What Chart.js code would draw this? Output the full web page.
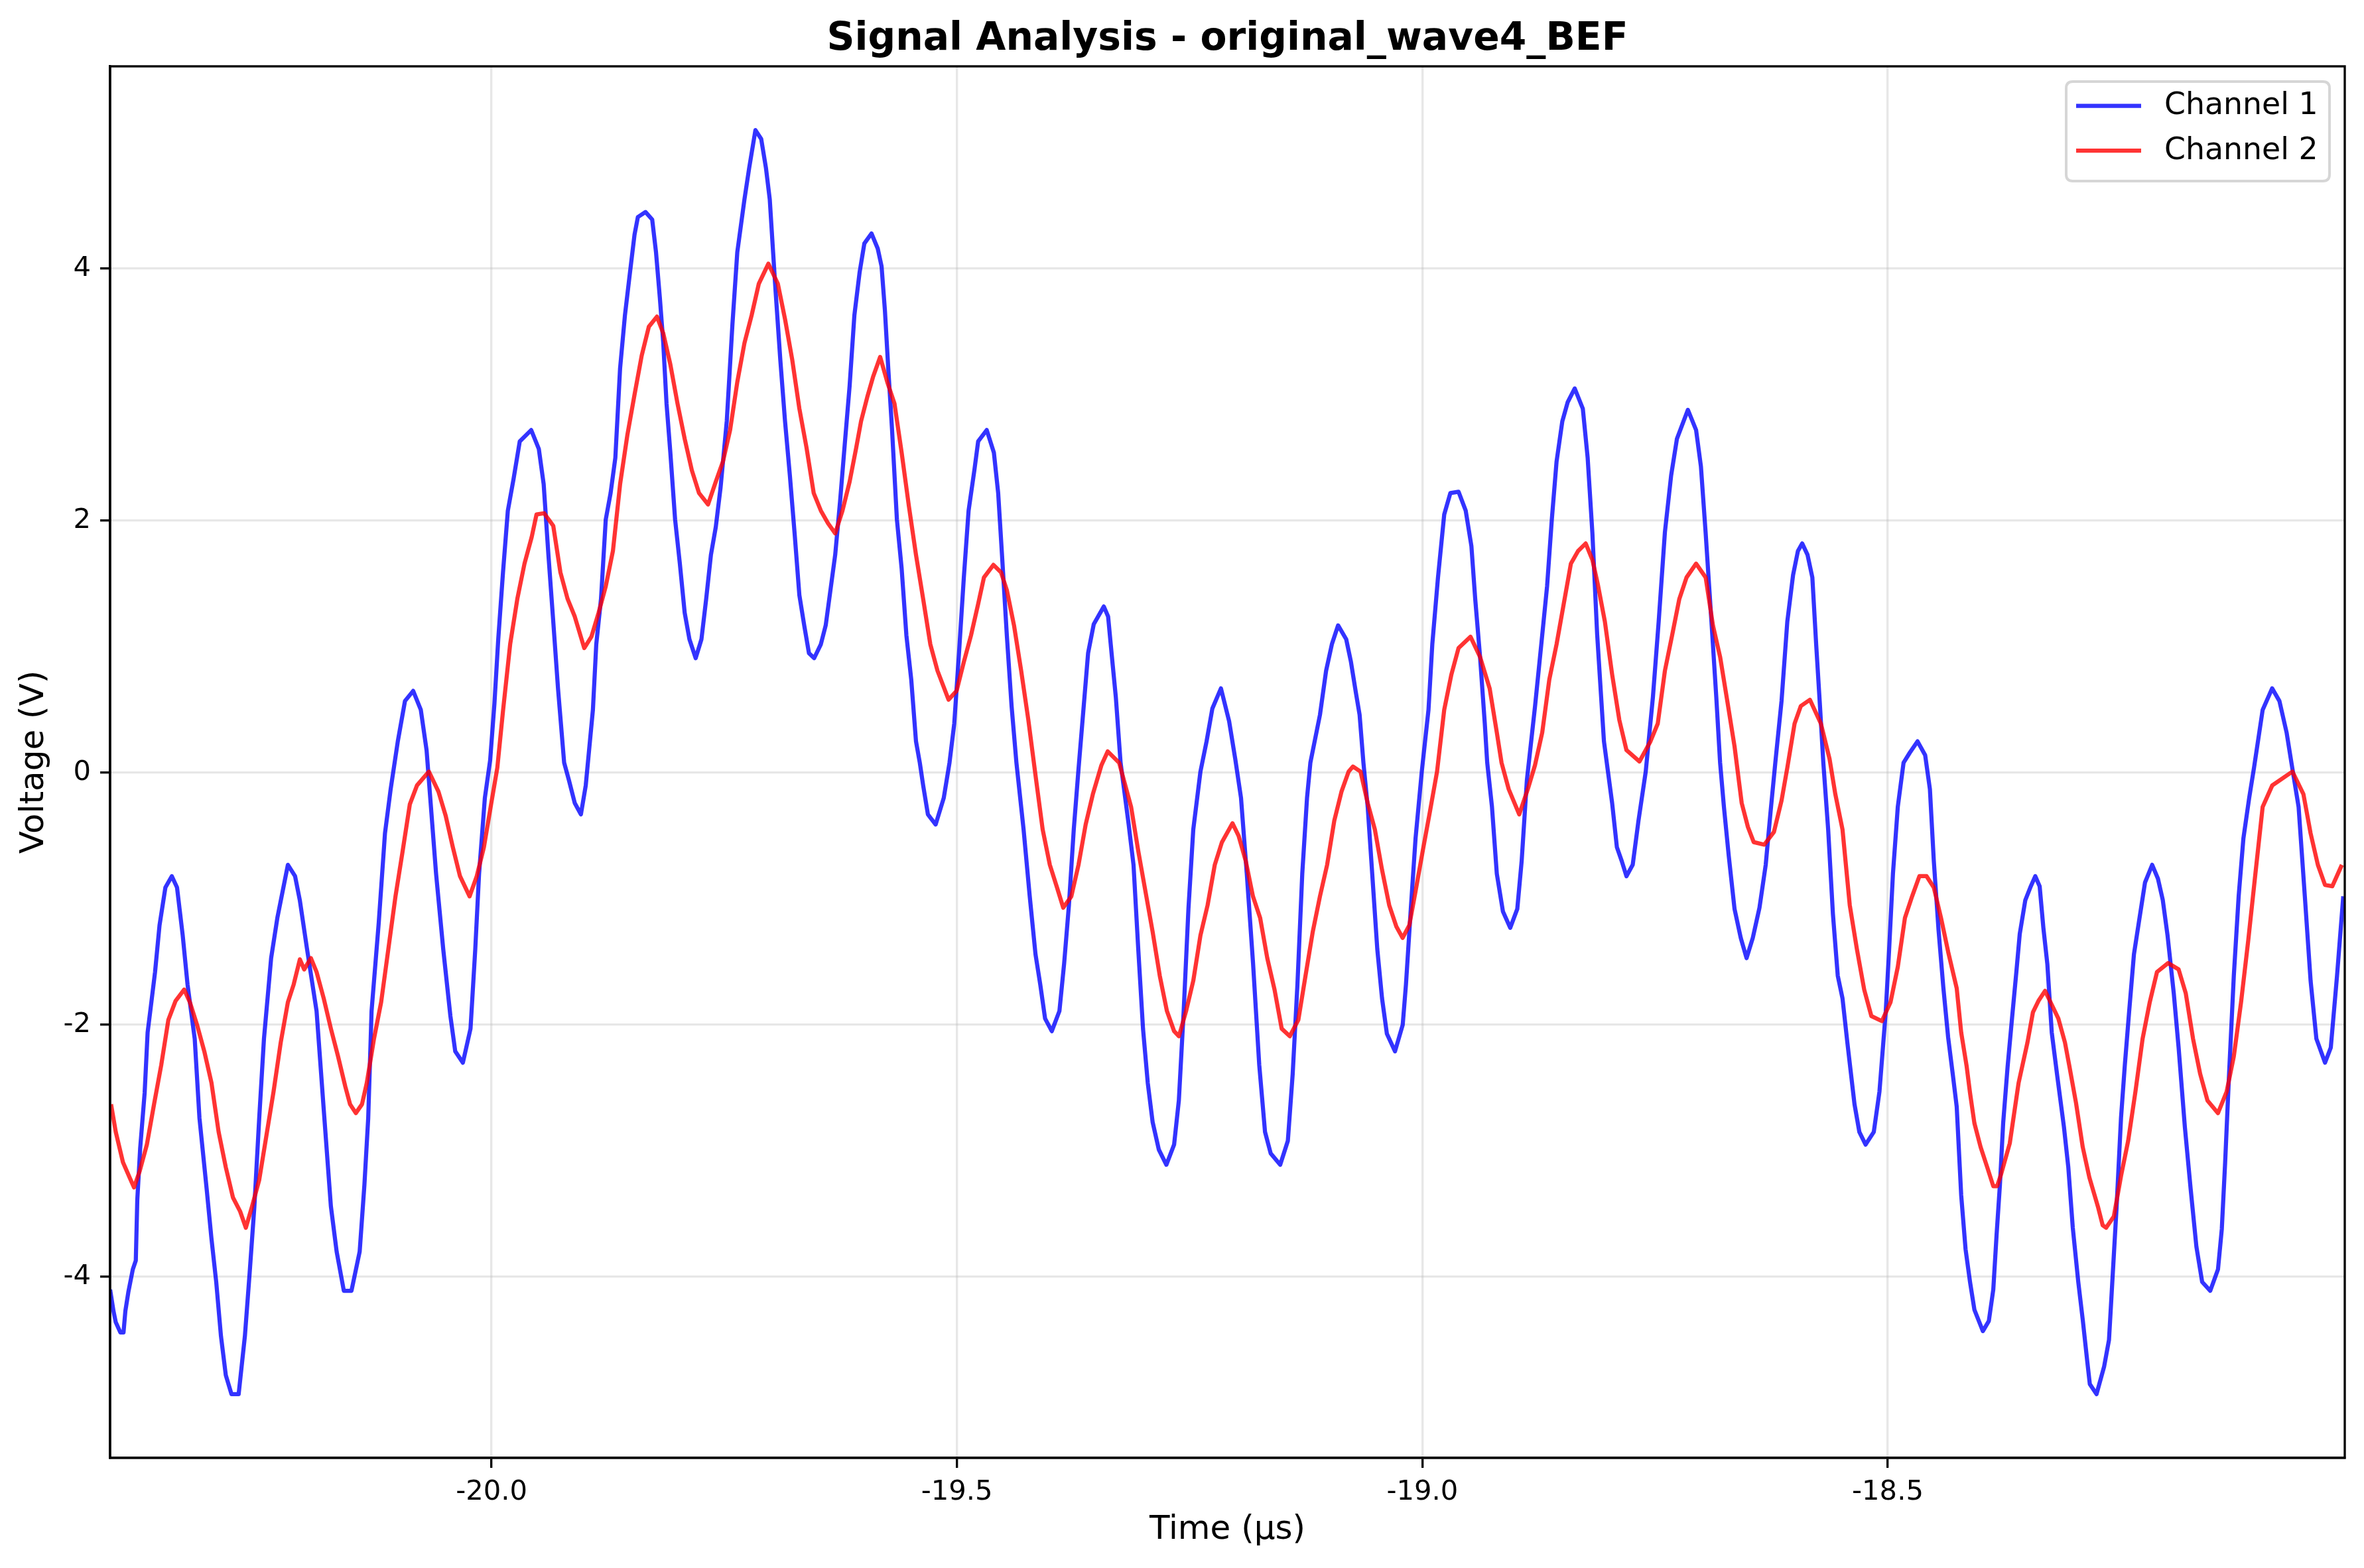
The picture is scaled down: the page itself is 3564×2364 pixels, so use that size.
<!DOCTYPE html>
<html><head><meta charset="utf-8">
<script src="https://cdn.jsdelivr.net/npm/chart.js@4.4.0/dist/chart.umd.min.js"></script>
<style>html,body{margin:0;padding:0;background:#fff;}canvas{display:block;}</style>
</head><body>
<canvas id="c" width="3564" height="2364" style="width:3564px;height:2364px"></canvas>
<script>
const chartTitle = 'Signal Analysis - original_wave4_BEF';
const xLabel = 'Time (μs)';
const yLabel = 'Voltage (V)';
const seriesNames = ['Channel 1', 'Channel 2'];
const xTicks = [-20.0, -19.5, -19.0, -18.5];
const yTicks = [-4, -2, 0, 2, 4];
const xRange = [-20.4098, -18.009];
const yRange = [-5.436, 5.606];

// [time (µs), voltage (V)]
const ch1Samples = [[-20.4098,-4.10],[-20.4062,-4.27],[-20.4037,-4.36],[-20.3988,-4.44],[-20.3954,-4.44],[-20.3934,-4.27],[-20.3902,-4.12],[-20.3854,-3.94],[-20.3822,-3.87],[-20.3806,-3.39],[-20.3775,-2.98],[-20.3727,-2.54],[-20.3695,-2.06],[-20.3663,-1.87],[-20.3615,-1.58],[-20.3567,-1.21],[-20.3504,-0.91],[-20.3435,-0.82],[-20.3379,-0.91],[-20.3318,-1.29],[-20.3266,-1.68],[-20.3189,-2.11],[-20.3138,-2.74],[-20.3061,-3.30],[-20.301,-3.69],[-20.2958,-4.04],[-20.2907,-4.47],[-20.2855,-4.78],[-20.2794,-4.93],[-20.2717,-4.93],[-20.265,-4.47],[-20.2599,-3.97],[-20.2548,-3.44],[-20.2496,-2.74],[-20.2445,-2.11],[-20.2368,-1.47],[-20.2301,-1.15],[-20.2188,-0.73],[-20.2111,-0.82],[-20.206,-1.01],[-20.1982,-1.40],[-20.188,-1.89],[-20.1803,-2.67],[-20.1726,-3.44],[-20.1664,-3.80],[-20.1587,-4.11],[-20.1505,-4.11],[-20.1417,-3.80],[-20.1366,-3.27],[-20.1325,-2.74],[-20.1289,-1.89],[-20.1212,-1.19],[-20.1145,-0.48],[-20.1084,-0.13],[-20.1007,0.25],[-20.093,0.57],[-20.0842,0.65],[-20.076,0.50],[-20.0698,0.18],[-20.0596,-0.80],[-20.0519,-1.40],[-20.0442,-1.93],[-20.039,-2.21],[-20.0308,-2.30],[-20.0226,-2.03],[-20.0175,-1.40],[-20.0134,-0.80],[-20.0072,-0.20],[-20.0015,0.10],[-19.9969,0.55],[-19.9928,1.06],[-19.9877,1.59],[-19.9825,2.08],[-19.9764,2.33],[-19.9697,2.63],[-19.9574,2.72],[-19.9492,2.57],[-19.944,2.29],[-19.9389,1.73],[-19.9337,1.20],[-19.9286,0.67],[-19.922,0.08],[-19.9168,-0.06],[-19.9106,-0.24],[-19.904,-0.33],[-19.8988,-0.10],[-19.8911,0.50],[-19.8875,1.02],[-19.8824,1.38],[-19.8773,2.01],[-19.8721,2.22],[-19.867,2.50],[-19.8619,3.21],[-19.8567,3.63],[-19.8516,3.95],[-19.8464,4.27],[-19.8428,4.41],[-19.8346,4.45],[-19.8274,4.39],[-19.8233,4.13],[-19.8192,3.77],[-19.8156,3.42],[-19.812,2.93],[-19.8079,2.54],[-19.8028,2.01],[-19.7977,1.66],[-19.7925,1.27],[-19.7874,1.06],[-19.7807,0.91],[-19.7745,1.06],[-19.7694,1.38],[-19.7643,1.73],[-19.7591,1.95],[-19.754,2.26],[-19.7473,2.79],[-19.7412,3.56],[-19.736,4.13],[-19.7283,4.55],[-19.7232,4.80],[-19.7165,5.10],[-19.7103,5.03],[-19.7052,4.80],[-19.7011,4.55],[-19.6975,4.13],[-19.695,3.84],[-19.6898,3.28],[-19.6847,2.79],[-19.6795,2.36],[-19.6744,1.90],[-19.6693,1.41],[-19.6641,1.17],[-19.659,0.95],[-19.6534,0.91],[-19.6462,1.02],[-19.641,1.17],[-19.6359,1.45],[-19.6308,1.73],[-19.6256,2.15],[-19.6205,2.61],[-19.6153,3.07],[-19.6102,3.63],[-19.6046,3.97],[-19.5995,4.20],[-19.5918,4.28],[-19.5851,4.16],[-19.581,4.02],[-19.5774,3.67],[-19.5738,3.21],[-19.5697,2.72],[-19.5645,2.01],[-19.5594,1.62],[-19.5543,1.09],[-19.5491,0.74],[-19.544,0.25],[-19.5399,0.08],[-19.5363,-0.10],[-19.5312,-0.33],[-19.5229,-0.41],[-19.5142,-0.20],[-19.508,0.08],[-19.5029,0.39],[-19.4978,0.95],[-19.4926,1.55],[-19.4875,2.08],[-19.4813,2.40],[-19.4772,2.63],[-19.468,2.72],[-19.4603,2.54],[-19.4557,2.22],[-19.4516,1.73],[-19.4464,1.09],[-19.4413,0.53],[-19.4361,0.08],[-19.4284,-0.45],[-19.4218,-0.98],[-19.4156,-1.44],[-19.4105,-1.68],[-19.4053,-1.95],[-19.3981,-2.05],[-19.3899,-1.89],[-19.3848,-1.51],[-19.3797,-1.05],[-19.3745,-0.45],[-19.3694,0.03],[-19.3591,0.95],[-19.353,1.18],[-19.3422,1.32],[-19.3376,1.24],[-19.3335,0.92],[-19.3293,0.60],[-19.3242,0.08],[-19.3155,-0.41],[-19.3103,-0.73],[-19.3052,-1.40],[-19.3001,-2.03],[-19.295,-2.46],[-19.2898,-2.77],[-19.2831,-2.99],[-19.275,-3.11],[-19.2667,-2.95],[-19.2616,-2.60],[-19.2564,-1.89],[-19.2513,-1.08],[-19.2461,-0.45],[-19.2384,0.01],[-19.2318,0.25],[-19.2256,0.51],[-19.2164,0.67],[-19.2076,0.41],[-19.201,0.11],[-19.1948,-0.20],[-19.1886,-0.80],[-19.1819,-1.51],[-19.1752,-2.32],[-19.169,-2.85],[-19.1629,-3.02],[-19.1527,-3.11],[-19.1445,-2.92],[-19.1393,-2.39],[-19.1342,-1.68],[-19.129,-0.80],[-19.1239,-0.20],[-19.1203,0.08],[-19.11,0.46],[-19.1034,0.81],[-19.0972,1.02],[-19.0905,1.17],[-19.0818,1.06],[-19.0767,0.88],[-19.0715,0.64],[-19.0674,0.46],[-19.0633,0.08],[-19.0587,-0.27],[-19.0535,-0.84],[-19.0484,-1.40],[-19.0433,-1.79],[-19.0381,-2.07],[-19.0294,-2.21],[-19.0211,-2.00],[-19.0176,-1.68],[-19.0124,-1.08],[-19.0073,-0.52],[-19.0006,0.01],[-18.9934,0.50],[-18.9893,1.02],[-18.9832,1.55],[-18.9765,2.05],[-18.9699,2.22],[-18.9611,2.23],[-18.9534,2.08],[-18.9473,1.80],[-18.9432,1.38],[-18.938,0.92],[-18.9329,0.39],[-18.9303,0.08],[-18.9252,-0.27],[-18.92,-0.80],[-18.9134,-1.10],[-18.9056,-1.23],[-18.898,-1.08],[-18.8933,-0.70],[-18.8877,-0.06],[-18.8789,0.53],[-18.8722,1.02],[-18.866,1.48],[-18.8609,2.01],[-18.8558,2.47],[-18.8496,2.79],[-18.8439,2.94],[-18.8363,3.05],[-18.8276,2.89],[-18.8224,2.50],[-18.8173,1.90],[-18.8122,1.10],[-18.8049,0.25],[-18.7961,-0.24],[-18.791,-0.59],[-18.7858,-0.70],[-18.7807,-0.82],[-18.774,-0.73],[-18.7678,-0.38],[-18.76,0.01],[-18.7523,0.60],[-18.7461,1.20],[-18.7394,1.91],[-18.7327,2.36],[-18.7265,2.65],[-18.7147,2.88],[-18.7059,2.72],[-18.7007,2.43],[-18.6956,1.90],[-18.6894,1.20],[-18.6842,0.60],[-18.6801,0.08],[-18.676,-0.27],[-18.6708,-0.66],[-18.6646,-1.08],[-18.6579,-1.31],[-18.6517,-1.47],[-18.645,-1.31],[-18.6378,-1.07],[-18.6311,-0.73],[-18.6259,-0.31],[-18.6208,0.08],[-18.6141,0.57],[-18.6079,1.20],[-18.6017,1.57],[-18.5965,1.76],[-18.5919,1.82],[-18.5862,1.73],[-18.581,1.55],[-18.5769,1.02],[-18.5728,0.53],[-18.5692,0.08],[-18.564,-0.45],[-18.5589,-1.12],[-18.5537,-1.61],[-18.5486,-1.79],[-18.5434,-2.14],[-18.5357,-2.63],[-18.5305,-2.85],[-18.5238,-2.95],[-18.515,-2.85],[-18.5089,-2.53],[-18.5021,-1.89],[-18.4985,-1.40],[-18.4944,-0.80],[-18.4892,-0.27],[-18.483,0.08],[-18.4763,0.16],[-18.468,0.25],[-18.4598,0.14],[-18.4547,-0.13],[-18.4505,-0.70],[-18.4454,-1.25],[-18.4403,-1.70],[-18.4351,-2.10],[-18.43,-2.40],[-18.4259,-2.65],[-18.4211,-3.35],[-18.4164,-3.78],[-18.4116,-4.04],[-18.4069,-4.26],[-18.4021,-4.35],[-18.3978,-4.43],[-18.3914,-4.35],[-18.3866,-4.10],[-18.3831,-3.67],[-18.3795,-3.27],[-18.376,-2.78],[-18.3712,-2.33],[-18.3665,-1.95],[-18.3617,-1.57],[-18.3582,-1.28],[-18.3522,-1.01],[-18.3463,-0.90],[-18.3415,-0.82],[-18.3368,-0.90],[-18.3328,-1.23],[-18.3285,-1.52],[-18.3238,-2.06],[-18.3178,-2.41],[-18.3107,-2.81],[-18.306,-3.13],[-18.3012,-3.61],[-18.2953,-4.04],[-18.2905,-4.34],[-18.2858,-4.66],[-18.2829,-4.85],[-18.2757,-4.93],[-18.2675,-4.71],[-18.2623,-4.50],[-18.2582,-3.97],[-18.2541,-3.44],[-18.2494,-2.74],[-18.2453,-2.32],[-18.2406,-1.89],[-18.2355,-1.44],[-18.2303,-1.19],[-18.2236,-0.87],[-18.2159,-0.73],[-18.2097,-0.84],[-18.2045,-1.01],[-18.1994,-1.29],[-18.1927,-1.75],[-18.1875,-2.18],[-18.1808,-2.81],[-18.1746,-3.30],[-18.1684,-3.76],[-18.1622,-4.04],[-18.1535,-4.11],[-18.1452,-3.94],[-18.1411,-3.62],[-18.1375,-3.09],[-18.1333,-2.39],[-18.1282,-1.61],[-18.123,-0.98],[-18.1179,-0.52],[-18.1117,-0.20],[-18.1065,0.04],[-18.0972,0.50],[-18.087,0.67],[-18.0792,0.57],[-18.0715,0.32],[-18.0663,0.08],[-18.0586,-0.27],[-18.0519,-0.98],[-18.0457,-1.65],[-18.0395,-2.11],[-18.0302,-2.30],[-18.024,-2.18],[-18.0173,-1.61],[-18.0106,-0.98]];

const ch2Samples = [[-20.4088,-2.63],[-20.4037,-2.85],[-20.396,-3.09],[-20.3883,-3.22],[-20.3841,-3.29],[-20.378,-3.16],[-20.3703,-2.95],[-20.3626,-2.63],[-20.3549,-2.32],[-20.3472,-1.96],[-20.3395,-1.81],[-20.3302,-1.72],[-20.3241,-1.82],[-20.3164,-2.00],[-20.3086,-2.21],[-20.3009,-2.46],[-20.2932,-2.85],[-20.2855,-3.13],[-20.2778,-3.37],[-20.2701,-3.48],[-20.264,-3.61],[-20.2573,-3.44],[-20.2496,-3.23],[-20.2419,-2.88],[-20.2342,-2.53],[-20.2265,-2.14],[-20.2188,-1.82],[-20.2126,-1.68],[-20.2059,-1.48],[-20.2013,-1.56],[-20.1941,-1.47],[-20.188,-1.58],[-20.1803,-1.79],[-20.1726,-2.03],[-20.1649,-2.25],[-20.1571,-2.49],[-20.152,-2.63],[-20.1458,-2.70],[-20.1392,-2.63],[-20.134,-2.46],[-20.1263,-2.11],[-20.1186,-1.82],[-20.1109,-1.40],[-20.1032,-0.98],[-20.0955,-0.62],[-20.0878,-0.25],[-20.0801,-0.10],[-20.0673,0.01],[-20.057,-0.15],[-20.0493,-0.34],[-20.0416,-0.59],[-20.0339,-0.82],[-20.0236,-0.98],[-20.0159,-0.82],[-20.0082,-0.59],[-20.0005,-0.25],[-19.9938,0.04],[-19.9877,0.49],[-19.98,1.02],[-19.9723,1.38],[-19.9646,1.66],[-19.9569,1.87],[-19.9517,2.05],[-19.9435,2.06],[-19.9337,1.96],[-19.926,1.59],[-19.9183,1.38],[-19.9106,1.24],[-19.9004,0.99],[-19.8927,1.08],[-19.885,1.27],[-19.8773,1.48],[-19.8696,1.76],[-19.8619,2.29],[-19.8541,2.68],[-19.8464,3.00],[-19.8387,3.31],[-19.831,3.54],[-19.8223,3.62],[-19.8156,3.49],[-19.8079,3.24],[-19.8002,2.93],[-19.7925,2.65],[-19.7848,2.40],[-19.7771,2.22],[-19.7674,2.13],[-19.7591,2.31],[-19.7514,2.47],[-19.7437,2.72],[-19.736,3.10],[-19.7283,3.41],[-19.7206,3.63],[-19.7129,3.88],[-19.7026,4.04],[-19.6924,3.88],[-19.6847,3.60],[-19.677,3.28],[-19.6693,2.89],[-19.6616,2.58],[-19.6539,2.22],[-19.6462,2.08],[-19.6385,1.98],[-19.6308,1.90],[-19.623,2.08],[-19.6153,2.31],[-19.6082,2.58],[-19.603,2.79],[-19.5964,2.98],[-19.5902,3.14],[-19.5825,3.30],[-19.5748,3.10],[-19.5671,2.93],[-19.5594,2.54],[-19.5517,2.12],[-19.544,1.73],[-19.5363,1.38],[-19.5286,1.02],[-19.5209,0.81],[-19.509,0.58],[-19.5004,0.65],[-19.4926,0.88],[-19.4849,1.09],[-19.4772,1.34],[-19.471,1.55],[-19.4608,1.65],[-19.4526,1.59],[-19.4464,1.45],[-19.4387,1.17],[-19.431,0.81],[-19.4233,0.42],[-19.4156,-0.02],[-19.4079,-0.45],[-19.4002,-0.73],[-19.3925,-0.91],[-19.3858,-1.07],[-19.3771,-0.98],[-19.3694,-0.73],[-19.3617,-0.41],[-19.354,-0.17],[-19.3448,0.06],[-19.338,0.17],[-19.3257,0.08],[-19.3206,-0.06],[-19.3129,-0.27],[-19.3052,-0.62],[-19.2975,-0.94],[-19.2898,-1.26],[-19.2821,-1.61],[-19.2744,-1.89],[-19.2667,-2.05],[-19.2615,-2.09],[-19.2538,-1.89],[-19.2461,-1.65],[-19.2384,-1.29],[-19.2307,-1.05],[-19.223,-0.73],[-19.2153,-0.55],[-19.204,-0.40],[-19.1974,-0.50],[-19.1897,-0.70],[-19.182,-0.98],[-19.1743,-1.15],[-19.1666,-1.47],[-19.1588,-1.72],[-19.1511,-2.03],[-19.1424,-2.09],[-19.1332,-1.96],[-19.1255,-1.61],[-19.1177,-1.26],[-19.11,-0.98],[-19.1023,-0.73],[-19.0946,-0.38],[-19.0869,-0.15],[-19.0792,0.01],[-19.0746,0.05],[-19.0664,0.01],[-19.0587,-0.24],[-19.051,-0.45],[-19.0433,-0.77],[-19.0356,-1.05],[-19.0279,-1.22],[-19.0212,-1.31],[-19.014,-1.21],[-19.0073,-0.94],[-18.9996,-0.62],[-18.9919,-0.31],[-18.9842,0.01],[-18.9765,0.50],[-18.9688,0.78],[-18.9611,0.99],[-18.9483,1.08],[-18.938,0.92],[-18.9277,0.67],[-18.92,0.32],[-18.9149,0.08],[-18.9072,-0.13],[-18.8959,-0.33],[-18.8867,-0.13],[-18.879,0.06],[-18.8712,0.32],[-18.8636,0.74],[-18.8558,1.02],[-18.8481,1.34],[-18.8404,1.66],[-18.8327,1.76],[-18.8245,1.82],[-18.8173,1.69],[-18.8116,1.50],[-18.8039,1.20],[-18.7961,0.78],[-18.7884,0.42],[-18.7807,0.18],[-18.7667,0.09],[-18.7549,0.25],[-18.7471,0.39],[-18.7394,0.81],[-18.7317,1.09],[-18.7239,1.38],[-18.7162,1.55],[-18.7059,1.66],[-18.6956,1.55],[-18.6878,1.17],[-18.6801,0.92],[-18.6724,0.57],[-18.6646,0.21],[-18.6569,-0.24],[-18.6502,-0.43],[-18.644,-0.55],[-18.6326,-0.57],[-18.6223,-0.47],[-18.6141,-0.22],[-18.6079,0.04],[-18.6001,0.39],[-18.5934,0.53],[-18.5836,0.58],[-18.5718,0.39],[-18.5625,0.11],[-18.5563,-0.17],[-18.5486,-0.45],[-18.5408,-1.05],[-18.5331,-1.40],[-18.5253,-1.72],[-18.5176,-1.93],[-18.5063,-1.97],[-18.497,-1.82],[-18.4892,-1.54],[-18.4815,-1.15],[-18.4738,-0.98],[-18.466,-0.82],[-18.4583,-0.82],[-18.4505,-0.91],[-18.4428,-1.15],[-18.4351,-1.42],[-18.4259,-1.71],[-18.4211,-2.06],[-18.4152,-2.33],[-18.4116,-2.54],[-18.4069,-2.78],[-18.4002,-2.97],[-18.3931,-3.13],[-18.3866,-3.28],[-18.3825,-3.28],[-18.3784,-3.19],[-18.3689,-2.94],[-18.3594,-2.46],[-18.3499,-2.14],[-18.344,-1.90],[-18.3381,-1.81],[-18.331,-1.73],[-18.3238,-1.84],[-18.3167,-1.95],[-18.3096,-2.14],[-18.3048,-2.33],[-18.2977,-2.62],[-18.2905,-2.97],[-18.2834,-3.21],[-18.2739,-3.45],[-18.2691,-3.59],[-18.2654,-3.61],[-18.2571,-3.52],[-18.2494,-3.20],[-18.2417,-2.92],[-18.2339,-2.53],[-18.2262,-2.11],[-18.2185,-1.82],[-18.2107,-1.58],[-18.1988,-1.51],[-18.1875,-1.56],[-18.1798,-1.75],[-18.172,-2.11],[-18.1643,-2.39],[-18.1565,-2.60],[-18.1452,-2.70],[-18.1359,-2.53],[-18.1282,-2.25],[-18.1204,-1.82],[-18.1127,-1.33],[-18.105,-0.80],[-18.0972,-0.27],[-18.0869,-0.10],[-18.0652,0.01],[-18.0534,-0.17],[-18.0457,-0.48],[-18.0379,-0.73],[-18.0302,-0.89],[-18.0224,-0.90],[-18.0121,-0.73]];

const seriesColors = ['rgba(0,0,255,0.8)', 'rgba(255,0,0,0.8)'];
const FONT = "'DejaVu Sans', 'Liberation Sans', sans-serif";

function toPoints(samples) { return samples.map(([t, v]) => ({x: t, y: v})); }

const framePlugin = {
  id: 'frame',
  afterDatasetsDraw(chart) {
    const {ctx, chartArea: a} = chart;
    ctx.save();
    ctx.strokeStyle = '#000';
    ctx.lineWidth = 3.33;
    ctx.strokeRect(a.left, a.top, a.right - a.left, a.bottom - a.top);
    ctx.restore();
  }
};

const titlePlugin = {
  id: 'mplTitle',
  afterDraw(chart) {
    const {ctx, chartArea: a} = chart;
    ctx.save();
    ctx.fillStyle = '#000';
    ctx.font = "bold 58.3px " + FONT;
    ctx.textAlign = 'center';
    ctx.textBaseline = 'alphabetic';
    ctx.fillText(chartTitle, (a.left + a.right) / 2, a.top - 25);
    ctx.restore();
  }
};

const legendPlugin = {
  id: 'mplLegend',
  afterDraw(chart) {
    const {ctx, chartArea: a} = chart;
    const bw = 397, bh = 150, r = 10;
    const bx = a.right - 23 - bw, by = a.top + 23;
    ctx.save();
    ctx.beginPath();
    ctx.moveTo(bx + r, by);
    ctx.lineTo(bx + bw - r, by);
    ctx.quadraticCurveTo(bx + bw, by, bx + bw, by + r);
    ctx.lineTo(bx + bw, by + bh - r);
    ctx.quadraticCurveTo(bx + bw, by + bh, bx + bw - r, by + bh);
    ctx.lineTo(bx + r, by + bh);
    ctx.quadraticCurveTo(bx, by + bh, bx, by + bh - r);
    ctx.lineTo(bx, by + r);
    ctx.quadraticCurveTo(bx, by, bx + r, by);
    ctx.closePath();
    ctx.fillStyle = 'rgba(255,255,255,0.8)';
    ctx.fill();
    ctx.strokeStyle = 'rgba(204,204,204,0.8)';
    ctx.lineWidth = 4;
    ctx.stroke();
    const rows = [by + 36.6, by + 104.2];
    chart.data.datasets.forEach((ds, i) => {
      const y = rows[i];
      ctx.beginPath();
      ctx.moveTo(bx + 15, y);
      ctx.lineTo(bx + 113, y);
      ctx.strokeStyle = ds.borderColor;
      ctx.lineWidth = 6.25;
      ctx.stroke();
      ctx.fillStyle = '#000';
      ctx.font = "45.8px " + FONT;
      ctx.textAlign = 'left';
      ctx.textBaseline = 'middle';
      ctx.fillText(ds.label, bx + 148, y + 1);
    });
    ctx.restore();
  }
};

const gridOpts = {
  color: 'rgba(176,176,176,0.3)',
  lineWidth: 3.33,
  tickColor: '#000',
  tickWidth: 3.33,
  tickLength: 15,
  drawTicks: true
};

new Chart(document.getElementById('c'), {
  type: 'line',
  data: {
    datasets: [
      {label: seriesNames[0], data: toPoints(ch1Samples), borderColor: seriesColors[0], backgroundColor: seriesColors[0],
       borderWidth: 6.25, pointRadius: 0, tension: 0, fill: false, order: 1, borderJoinStyle: 'round'},
      {label: seriesNames[1], data: toPoints(ch2Samples), borderColor: seriesColors[1], backgroundColor: seriesColors[1],
       borderWidth: 6.25, pointRadius: 0, tension: 0, fill: false, order: 0, borderJoinStyle: 'round'}
    ]
  },
  options: {
    responsive: false,
    animation: false,
    devicePixelRatio: 1,
    layout: {padding: {top: 100, right: 29, left: 0, bottom: 0}},
    plugins: {legend: {display: false}, tooltip: {enabled: false}, title: {display: false}},
    scales: {
      x: {
        type: 'linear', position: 'bottom', min: xRange[0], max: xRange[1],
        afterBuildTicks: (s) => { s.ticks = xTicks.map(v => ({value: v})); },
        afterFit: (s) => { s.height = 166; },
        grid: gridOpts,
        border: {display: true, color: '#000', width: 3.33},
        ticks: {color: '#000', font: {family: FONT, size: 41.7}, padding: 12, maxRotation: 0, autoSkip: false,
                callback: (v) => Number(v).toFixed(1)},
        title: {display: true, text: xLabel, color: '#000', font: {family: FONT, size: 50}, padding: {top: 0, bottom: 27}}
      },
      y: {
        type: 'linear', position: 'left', min: yRange[0], max: yRange[1],
        afterBuildTicks: (s) => { s.ticks = yTicks.map(v => ({value: v})); },
        afterFit: (s) => { s.width = 166; },
        grid: gridOpts,
        border: {display: true, color: '#000', width: 3.33},
        ticks: {color: '#000', font: {family: FONT, size: 41.7}, padding: 14, autoSkip: false,
                callback: (v) => String(v)},
        title: {display: true, text: yLabel, color: '#000', font: {family: FONT, size: 50}, padding: {top: 22, bottom: 0}}
      }
    }
  },
  plugins: [framePlugin, titlePlugin, legendPlugin]
});
</script>
</body></html>
